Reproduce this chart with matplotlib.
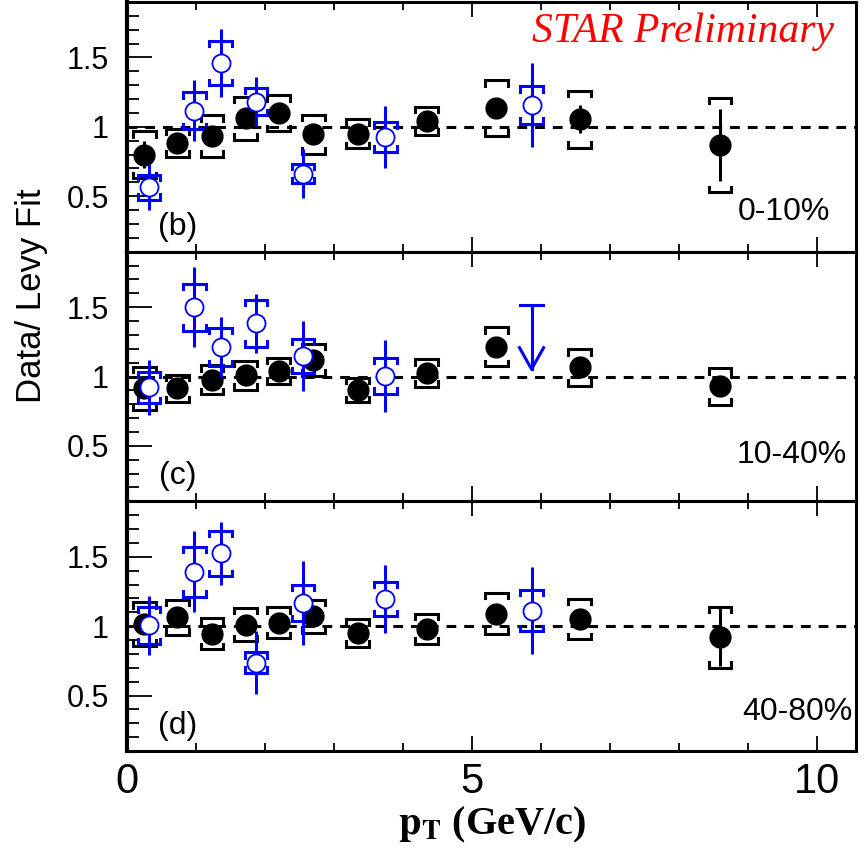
import numpy as np
import matplotlib.pyplot as plt
from matplotlib.ticker import FixedLocator, MultipleLocator, FixedFormatter

plt.rcParams['font.family'] = ['Liberation Sans', 'DejaVu Sans']
plt.rcParams['mathtext.fontset'] = 'stix'

# black: data / Levy fit, filled circles
pt_black = [0.25, 0.73, 1.23, 1.72, 2.20, 2.70, 3.34, 4.34, 5.35, 6.56, 8.59]
# blue: open circles
pt_blue = [0.32, 0.975, 1.36, 1.87, 2.55, 3.74, 5.86]

panels = ['(b)', '(c)', '(d)']
cents = ['0-10%', '10-40%', '40-80%']

black_y = [
    [0.80, 0.886, 0.935, 1.063, 1.097, 0.947, 0.951, 1.044, 1.136, 1.056, 0.869],
    [0.916, 0.914, 0.976, 1.010, 1.041, 1.120, 0.902, 1.024, 1.215, 1.065, 0.928],
    [1.017, 1.064, 0.945, 1.012, 1.024, 1.071, 0.952, 0.981, 1.090, 1.052, 0.921],
]
black_stat = [
    [0.10, 0.04, 0.04, 0.04, 0.04, 0.05, 0.04, 0.05, 0.05, 0.10, 0.26],
    [0.04, 0.04, 0.04, 0.04, 0.04, 0.05, 0.04, 0.05, 0.06, 0.07, 0.07],
    [0.04, 0.04, 0.04, 0.04, 0.04, 0.05, 0.04, 0.05, 0.06, 0.07, 0.21],
]
black_sys = [
    [0.17, 0.10, 0.15, 0.155, 0.13, 0.14, 0.105, 0.10, 0.20, 0.205, 0.34],
    [0.155, 0.10, 0.105, 0.105, 0.095, 0.115, 0.088, 0.10, 0.142, 0.13, 0.13],
    [0.157, 0.125, 0.113, 0.12, 0.112, 0.12, 0.10, 0.108, 0.15, 0.145, 0.22],
]

# None -> upper limit drawn instead of a point
blue_y = [
    [0.566, 1.116, 1.461, 1.182, 0.663, 0.927, 1.158],
    [0.921, 1.50, 1.213, 1.383, 1.148, 1.005, None],
    [1.005, 1.393, 1.524, 0.738, 1.167, 1.195, 1.112],
]
blue_stat = [
    [0.165, 0.22, 0.245, 0.175, 0.175, 0.225, 0.30],
    [0.20, 0.29, 0.215, 0.21, 0.25, 0.26, None],
    [0.215, 0.29, 0.225, 0.23, 0.30, 0.245, 0.315],
]
blue_sys = [
    [0.09, 0.135, 0.16, 0.10, 0.07, 0.105, 0.135],
    [0.115, 0.17, 0.14, 0.17, 0.125, 0.13, None],
    [0.135, 0.18, 0.165, 0.075, 0.133, 0.125, 0.15],
]
# upper limit in panel (c): from cap value down to arrow tip
ul_x = 5.86
ul_top = 1.514
ul_tip = 1.053


def brackets(ax, xs, ys, ss, color, w=0.165, t=0.04):
    px, py = [], []
    for x, y, s in zip(xs, ys, ss):
        if y is None:
            continue
        for sgn in (1, -1):
            e = y + sgn * s
            px += [x - w, x - w, x + w, x + w, np.nan]
            py += [e - sgn * t, e, e, e - sgn * t, np.nan]
    ax.plot(px, py, color=color, lw=2.2, solid_joinstyle='miter', zorder=2)


fig = plt.figure(figsize=(8.66, 8.51), dpi=100)
W, H = 866, 851
left, right = 127, 856
top, bot = 2, 751
ph = (bot - top) / 3

for i in range(3):
    ax = fig.add_axes([left / W, 1 - (top + (i + 1) * ph) / H, (right - left) / W, ph / H])
    ax.set_xlim(0, 10.56)
    ax.set_ylim(0.1, 1.9)
    ax.axhline(1, color='black', lw=2.2, dashes=(3.2, 2.6), zorder=1)

    brackets(ax, pt_black, black_y[i], black_sys[i], 'black')
    ax.errorbar(pt_black, black_y[i], yerr=black_stat[i], fmt='o', color='black',
                ms=15, elinewidth=2.2, capsize=0, zorder=3)

    bx = [x for x, y in zip(pt_blue, blue_y[i]) if y is not None]
    by = [y for y in blue_y[i] if y is not None]
    bs = [s for s in blue_stat[i] if s is not None]
    brackets(ax, pt_blue, blue_y[i], blue_sys[i], 'blue')
    ax.errorbar(bx, by, yerr=bs, fmt='o', color='blue', mfc='white', mec='blue',
                mew=1.3, ms=13, elinewidth=2.2, capsize=0, zorder=4)

    if None in blue_y[i]:
        ax.plot([ul_x, ul_x], [ul_top, ul_tip], color='blue', lw=2.2)
        ax.plot([ul_x - 0.17, ul_x + 0.17], [ul_top, ul_top], color='blue', lw=2.2)
        ax.plot([ul_x - 0.175, ul_x, ul_x + 0.175], [ul_tip + 0.155, ul_tip, ul_tip + 0.155],
                color='blue', lw=2.2)

    ax.xaxis.set_major_locator(FixedLocator([0, 5, 10]))
    ax.xaxis.set_minor_locator(MultipleLocator(1))
    ax.yaxis.set_major_locator(FixedLocator([0.5, 1, 1.5]))
    ax.yaxis.set_major_formatter(FixedFormatter(['0.5', '1', '1.5']))
    ax.yaxis.set_minor_locator(FixedLocator(np.arange(0.2, 1.85, 0.1)))
    ax.tick_params(axis='x', which='both', direction='in', top=True, bottom=True, width=1.3)
    ax.tick_params(axis='x', which='major', length=11, labelsize=30, pad=8)
    ax.tick_params(axis='x', which='minor', length=5.5)
    ax.tick_params(axis='y', which='both', direction='in', left=True, right=False, width=1.3)
    ax.tick_params(axis='y', which='major', length=18, labelsize=22, pad=13)
    ax.tick_params(axis='y', which='minor', length=8.6)
    if i < 2:
        ax.tick_params(axis='x', labelbottom=False)
    for sp in ax.spines.values():
        sp.set_linewidth(2.2)
    ax.spines['left'].set_linewidth(3)

    ax.text(0.07, 0.1, panels[i], transform=ax.transAxes, fontsize=23,
            ha='center', va='center')
    ax.text([0.965, 0.988, 0.995][i], [0.125, 0.155, 0.125][i], cents[i],
            transform=ax.transAxes, fontsize=23, ha='right', va='baseline')
    if i == 0:
        ax.text(0.97, 0.84, 'STAR Preliminary', transform=ax.transAxes, color='red',
                fontsize=30, fontstyle='italic', family='Liberation Serif',
                ha='right', va='baseline')
    if i == 2:
        ax.set_xlabel(r'$\mathbf{p}_{\mathbf{T}}$ (GeV/c)', fontsize=29,
                      fontweight='bold', family='Liberation Serif', labelpad=2)

fig.text(32 / W, 1 - 296 / H, 'Data/ Levy Fit', rotation=90, fontsize=25,
         ha='center', va='center')

fig.savefig('out.png', dpi=100)
